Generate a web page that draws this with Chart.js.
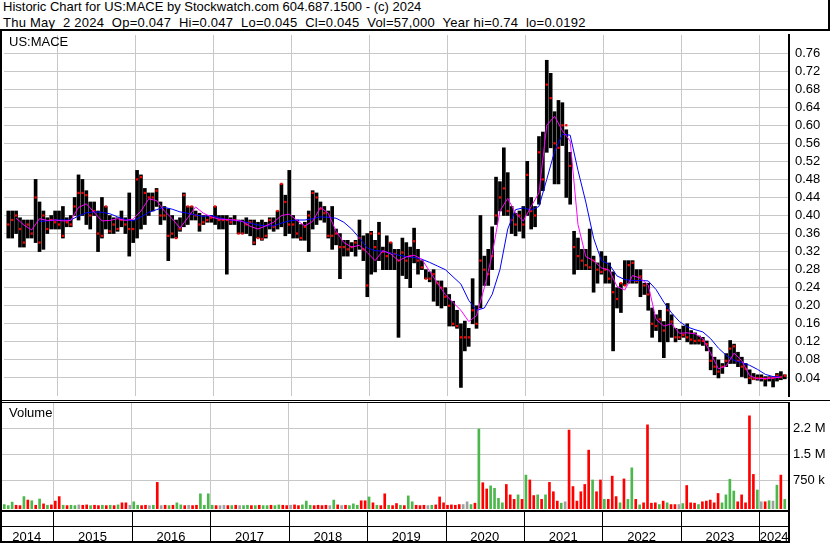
<!DOCTYPE html>
<html>
<head>
<meta charset="utf-8">
<title>Historic Chart for US:MACE</title>
<script src="https://cdn.jsdelivr.net/npm/chart.js@4.4.1/dist/chart.umd.min.js"></script>
<style>
  html, body { margin: 0; padding: 0; background: #fff; }
  #wrap { position: relative; width: 830px; height: 543px; overflow: hidden;
          font-family: "Liberation Sans", Arial, sans-serif; font-size: 13px; color: #000; }
  #wrap canvas { position: absolute; left: 0; }
  #priceChart { top: 31px; }
  #volChart { top: 403px; }
  .txt { position: absolute; white-space: pre; line-height: 15px; }
  .rule { position: absolute; background: #000; }
</style>
</head>
<body>
<div id="wrap">
  <canvas id="priceChart" width="830" height="369"></canvas>
  <canvas id="volChart" width="830" height="140"></canvas>
  <div class="txt" style="left:3px; top:-1px">Historic Chart for US:MACE by Stockwatch.com 604.687.1500 - (c) 2024</div>
  <div class="txt" style="left:3px; top:15px; letter-spacing:0.24px">Thu May  2 2024  Op=0.047  Hi=0.047  Lo=0.045  Cl=0.045  Vol=57,000  Year hi=0.74  lo=0.0192</div>
  <div class="rule" style="left:0; top:29px; width:830px; height:2px"></div>
  <div class="rule" style="left:828px; top:0; width:2px; height:31px"></div>
  <div class="rule" style="left:0; top:31px; width:2px; height:512px"></div>
  <div class="rule" style="left:0; top:400px; width:830px; height:1px"></div>
  <div class="rule" style="left:0; top:402px; width:790px; height:1px"></div>
  <div class="txt" style="left:9px; top:34px">US:MACE</div>
  <div class="txt" style="left:9px; top:405px">Volume</div>
</div>
<script>
// one bar every 0.05 year, first one in May 2014, last one early May 2024
const firstBar = 2014.375;
const barStep = 0.05;

const high = [
  0.41, 0.41, 0.41, 0.395, 0.39, 0.39, 0.39, 0.48, 0.43, 0.41, 0.395, 0.40, 0.41,
  0.41, 0.42, 0.395, 0.40, 0.44, 0.49, 0.48, 0.455, 0.43, 0.43, 0.41, 0.44, 0.42, 0.40, 0.395, 0.395, 0.41, 0.395, 0.45, 0.39,
  0.50, 0.49, 0.46, 0.45, 0.45, 0.46, 0.43, 0.42, 0.415, 0.40, 0.39, 0.395, 0.45, 0.42, 0.42, 0.41, 0.405, 0.40, 0.40, 0.40,
  0.42, 0.40, 0.40, 0.40, 0.395, 0.40, 0.39, 0.39, 0.395, 0.39, 0.39, 0.385, 0.39, 0.385, 0.395, 0.395, 0.41, 0.47, 0.445, 0.50,
  0.40, 0.39, 0.38, 0.385, 0.41, 0.455, 0.45, 0.43, 0.42, 0.41, 0.42, 0.37, 0.36, 0.345, 0.345, 0.34, 0.345, 0.39, 0.355, 0.36,
  0.365, 0.345, 0.385, 0.33, 0.355, 0.34, 0.325, 0.325, 0.35, 0.34, 0.33, 0.372, 0.325, 0.30, 0.28, 0.275, 0.28, 0.255, 0.255, 0.24,
  0.225, 0.21, 0.19, 0.16, 0.166, 0.15, 0.26, 0.20, 0.40, 0.31, 0.325, 0.375, 0.485, 0.475, 0.55, 0.495, 0.42, 0.405, 0.41, 0.42,
  0.52, 0.44, 0.42, 0.575, 0.585, 0.744, 0.715, 0.63, 0.655, 0.65, 0.59, 0.54, 0.365, 0.35, 0.325, 0.325, 0.37, 0.31, 0.295, 0.32,
  0.31, 0.295, 0.275, 0.24, 0.25, 0.30, 0.30, 0.30, 0.28, 0.28, 0.25, 0.25, 0.195, 0.18, 0.19, 0.165, 0.205, 0.18, 0.15, 0.148,
  0.155, 0.16, 0.145, 0.14, 0.133, 0.13, 0.122, 0.108, 0.086, 0.08, 0.072, 0.094, 0.123, 0.115, 0.097, 0.086, 0.072, 0.058, 0.05, 0.047,
  0.047, 0.043, 0.043, 0.043, 0.05, 0.054, 0.047
];
const low = [
  0.35, 0.35, 0.36, 0.33, 0.33, 0.35, 0.35, 0.34, 0.32, 0.325, 0.36, 0.37, 0.37,
  0.37, 0.35, 0.375, 0.375, 0.40, 0.39, 0.40, 0.38, 0.37, 0.40, 0.32, 0.35, 0.37, 0.36, 0.36, 0.365, 0.375, 0.36, 0.31, 0.34,
  0.35, 0.37, 0.38, 0.40, 0.41, 0.42, 0.38, 0.39, 0.30, 0.35, 0.35, 0.365, 0.375, 0.38, 0.39, 0.39, 0.365, 0.38, 0.385, 0.385,
  0.38, 0.37, 0.37, 0.27, 0.38, 0.38, 0.36, 0.36, 0.36, 0.355, 0.335, 0.35, 0.345, 0.35, 0.37, 0.365, 0.37, 0.375, 0.355, 0.36,
  0.35, 0.35, 0.345, 0.345, 0.32, 0.37, 0.38, 0.39, 0.385, 0.35, 0.325, 0.335, 0.26, 0.31, 0.31, 0.32, 0.31, 0.325, 0.30, 0.22,
  0.27, 0.275, 0.30, 0.28, 0.28, 0.28, 0.28, 0.13, 0.267, 0.26, 0.24, 0.295, 0.27, 0.28, 0.26, 0.253, 0.21, 0.20, 0.195, 0.20,
  0.155, 0.155, 0.15, 0.019, 0.10, 0.11, 0.16, 0.15, 0.195, 0.245, 0.245, 0.28, 0.38, 0.41, 0.40, 0.40, 0.36, 0.355, 0.365, 0.35,
  0.40, 0.37, 0.375, 0.425, 0.455, 0.54, 0.55, 0.47, 0.47, 0.555, 0.44, 0.425, 0.27, 0.28, 0.28, 0.28, 0.28, 0.23, 0.25, 0.27,
  0.25, 0.25, 0.10, 0.195, 0.185, 0.245, 0.25, 0.25, 0.25, 0.22, 0.225, 0.19, 0.13, 0.145, 0.12, 0.085, 0.12, 0.13, 0.12, 0.125,
  0.13, 0.12, 0.115, 0.115, 0.115, 0.112, 0.10, 0.058, 0.047, 0.04, 0.05, 0.065, 0.072, 0.072, 0.065, 0.043, 0.04, 0.027, 0.036, 0.035,
  0.033, 0.022, 0.033, 0.02, 0.033, 0.036, 0.038
];
const close = [
  0.38, 0.39, 0.40, 0.37, 0.34, 0.38, 0.36, 0.44, 0.34, 0.40, 0.37, 0.39, 0.385,
  0.38, 0.355, 0.385, 0.38, 0.42, 0.45, 0.45, 0.445, 0.40, 0.41, 0.36, 0.355, 0.42, 0.365, 0.38, 0.37, 0.39, 0.38, 0.37, 0.37,
  0.48, 0.485, 0.45, 0.44, 0.44, 0.455, 0.40, 0.40, 0.355, 0.36, 0.35, 0.37, 0.445, 0.42, 0.42, 0.40, 0.38, 0.385, 0.39, 0.395,
  0.42, 0.39, 0.39, 0.39, 0.385, 0.39, 0.36, 0.36, 0.38, 0.385, 0.34, 0.35, 0.348, 0.355, 0.39, 0.375, 0.41, 0.47, 0.43, 0.38,
  0.38, 0.36, 0.35, 0.375, 0.40, 0.45, 0.44, 0.415, 0.405, 0.355, 0.355, 0.36, 0.33, 0.33, 0.325, 0.33, 0.34, 0.35, 0.325, 0.245,
  0.36, 0.33, 0.36, 0.32, 0.31, 0.34, 0.315, 0.30, 0.318, 0.30, 0.31, 0.343, 0.30, 0.285, 0.26, 0.26, 0.27, 0.25, 0.24, 0.22,
  0.20, 0.16, 0.155, 0.13, 0.13, 0.13, 0.19, 0.16, 0.30, 0.28, 0.27, 0.31, 0.40, 0.44, 0.46, 0.41, 0.39, 0.38, 0.40, 0.38,
  0.49, 0.41, 0.40, 0.54, 0.48, 0.69, 0.66, 0.56, 0.55, 0.60, 0.60, 0.51, 0.33, 0.31, 0.30, 0.29, 0.285, 0.30, 0.28, 0.275,
  0.28, 0.26, 0.23, 0.215, 0.25, 0.245, 0.29, 0.295, 0.255, 0.265, 0.245, 0.225, 0.16, 0.155, 0.17, 0.145, 0.19, 0.165, 0.13, 0.13,
  0.135, 0.13, 0.125, 0.122, 0.123, 0.122, 0.115, 0.078, 0.065, 0.054, 0.065, 0.078, 0.105, 0.11, 0.078, 0.065, 0.06, 0.04, 0.038, 0.04,
  0.04, 0.038, 0.04, 0.04, 0.045, 0.042, 0.045
];
// volume in millions of shares
const volume = [
  0.05, 0.02, 0.12, 0.03, 0.02, 0.28, 0.18, 0.16, 0.03, 0.21, 0.07, 0.03, 0.04,
  0.15, 0.28, 0.03, 0.02, 0.03, 0.02, 0.04, 0.03, 0.04, 0.02, 0.03, 0.02, 0.03, 0.02, 0.03, 0.02, 0.04, 0.10, 0.10, 0.03,
  0.13, 0.03, 0.02, 0.03, 0.02, 0.03, 0.69, 0.02, 0.03, 0.02, 0.03, 0.10, 0.04, 0.02, 0.03, 0.02, 0.03, 0.36, 0.03, 0.36,
  0.03, 0.02, 0.02, 0.03, 0.02, 0.02, 0.03, 0.02, 0.02, 0.03, 0.02, 0.02, 0.03, 0.02, 0.02, 0.03, 0.02, 0.04, 0.03, 0.02,
  0.03, 0.04, 0.02, 0.04, 0.15, 0.03, 0.02, 0.03, 0.02, 0.03, 0.02, 0.18, 0.04, 0.02, 0.03, 0.02, 0.07, 0.03, 0.16, 0.16,
  0.27, 0.10, 0.03, 0.02, 0.36, 0.03, 0.02, 0.08, 0.03, 0.02, 0.30, 0.13, 0.03, 0.02, 0.03, 0.02, 0.03, 0.04, 0.27, 0.10,
  0.03, 0.04, 0.03, 0.05, 0.05, 0.13, 0.05, 0.09, 2.23, 0.68, 0.50, 0.59, 0.52, 0.23, 0.10, 0.63, 0.33, 0.20, 0.33, 0.20,
  0.90, 0.76, 0.31, 0.33, 0.20, 0.33, 0.69, 0.42, 0.15, 0.09, 0.13, 2.20, 0.57, 0.15, 0.42, 0.63, 1.62, 0.76, 0.42, 0.76,
  0.20, 0.20, 0.87, 0.28, 0.10, 0.79, 0.20, 1.11, 0.20, 0.04, 0.10, 2.35, 0.09, 0.10, 0.05, 0.15, 0.10, 0.05, 0.05, 0.05,
  0.08, 0.60, 0.10, 0.09, 0.05, 0.13, 0.15, 0.18, 0.10, 0.37, 0.10, 0.33, 0.78, 0.44, 0.13, 0.33, 0.10, 2.61, 0.92, 0.47,
  0.13, 0.13, 0.16, 0.15, 0.61, 0.90, 0.20
];
// moving averages, read every second bar
const maShort = [
  null, 0.394, 0.379, 0.368, 0.393, 0.389, 0.39, 0.388, 0.389, 0.418,
  0.426, 0.407, 0.388, 0.389, 0.393, 0.389, 0.392, 0.41, 0.437, 0.433,
  0.41, 0.393, 0.372, 0.395, 0.419, 0.405, 0.397, 0.392, 0.391, 0.39,
  0.387, 0.376, 0.37, 0.377, 0.385, 0.40, 0.403, 0.389, 0.377, 0.387,
  0.418, 0.405, 0.365, 0.34, 0.33, 0.334, 0.318, 0.30, 0.322, 0.315,
  0.30, 0.308, 0.312, 0.303, 0.276, 0.25, 0.225, 0.207, 0.19, 0.165,
  0.178, 0.24, 0.313, 0.41, 0.438, 0.405, 0.388, 0.42, 0.45, 0.60,
  0.62, 0.588, 0.565, 0.38, 0.309, 0.30, 0.284, 0.279, 0.243, 0.235,
  0.267, 0.261, 0.246, 0.17, 0.155, 0.16, 0.139, 0.14, 0.138, 0.127,
  0.095, 0.06, 0.067, 0.095, 0.078, 0.045, 0.038, 0.039, 0.04, 0.042
];
const maLong = [
  null, null, null, null, 0.387, 0.388, 0.39, 0.39, 0.39, 0.399,
  0.406, 0.408, 0.407, 0.404, 0.397, 0.391, 0.388, 0.397, 0.407, 0.413,
  0.418, 0.414, 0.408, 0.405, 0.401, 0.398, 0.40, 0.395, 0.391, 0.389,
  0.387, 0.383, 0.379, 0.377, 0.377, 0.383, 0.388, 0.39, 0.39, 0.393,
  0.397, 0.396, 0.394, 0.385, 0.37, 0.35, 0.328, 0.322, 0.321, 0.317,
  0.312, 0.309, 0.307, 0.303, 0.296, 0.288, 0.28, 0.264, 0.248, 0.212,
  0.19, 0.195, 0.225, 0.28, 0.37, 0.413, 0.417, 0.412, 0.42, 0.48,
  0.542, 0.58, 0.578, 0.50, 0.43, 0.35, 0.30, 0.292, 0.266, 0.258,
  0.256, 0.256, 0.255, 0.236, 0.208, 0.184, 0.165, 0.153, 0.147, 0.142,
  0.127, 0.106, 0.09, 0.079, 0.074, 0.068, 0.059, 0.048, 0.043, 0.042
];

const yearTicks = [2015, 2016, 2017, 2018, 2019, 2020, 2021, 2022, 2023, 2024];
const yearLabels = ['2014', '2015', '2016', '2017', '2018', '2019', '2020', '2021', '2022', '2023', '2024'];
const priceTicks = [0.04, 0.08, 0.12, 0.16, 0.20, 0.24, 0.28, 0.32, 0.36, 0.40,
                    0.44, 0.48, 0.52, 0.56, 0.60, 0.64, 0.68, 0.72, 0.76];
const priceLabels = priceTicks.map(v => v.toFixed(2));
const volTicks = [0.75, 1.5, 2.25];
const volLabels = ['750 k', '1.5 M', '2.2 M'];

const xMin = 2014.32, xMax = 2024.379;
const gridColor = '#c8c8c8';
const upColor = '#4cb84c', downColor = '#ff0000', flatColor = '#a0a0a0';

function pickTickFont() {
  const c = document.createElement('canvas').getContext('2d');
  c.font = '15px "Liberation Sans Narrow", serif';
  const a = c.measureText('0123456789').width;
  c.font = '15px serif';
  const b = c.measureText('0123456789').width;
  if (Math.abs(a - b) > 0.5) return {family: '"Liberation Sans Narrow"', size: 15};
  return {family: '"Liberation Sans", Arial, sans-serif', size: 13};
}
const tickFont = pickTickFont();

const barTime = i => firstBar + i * barStep;
const everyOther = arr => arr.map((v, k) => ({x: barTime(2 * k), y: v})).filter(p => p.y !== null);

function xScale() {
  return {
    type: 'linear', min: xMin, max: xMax, offset: false,
    grid: {color: gridColor, drawTicks: false, offset: false},
    border: {display: false},
    ticks: {display: false},
    afterBuildTicks: s => { s.ticks = yearTicks.map(v => ({value: v})); },
    afterFit: s => { s.height = 0; }
  };
}

const common = {
  responsive: false,
  animation: false,
  devicePixelRatio: 1,
  events: [],
  plugins: {legend: {display: false}, tooltip: {enabled: false}}
};

new Chart(document.getElementById('priceChart'), {
  type: 'bar',
  data: {
    datasets: [
      {
        type: 'line', data: everyOther(maShort), borderColor: '#ff00ff', borderWidth: 1,
        pointRadius: 0, tension: 0, order: 1
      },
      {
        type: 'line', data: everyOther(maLong), borderColor: '#0000ff', borderWidth: 1,
        pointRadius: 0, tension: 0, order: 2
      },
      {
        type: 'line', data: close.map((c, i) => ({x: barTime(i), y: c})), showLine: false,
        pointStyle: 'rect', pointRadius: 1.6, pointBorderWidth: 0,
        pointBackgroundColor: '#ff0000', pointBorderColor: '#ff0000', order: 3
      },
      {
        type: 'bar', data: high.map((h, i) => ({x: barTime(i), y: [low[i], h]})),
        backgroundColor: '#000', barThickness: 3, order: 4
      }
    ]
  },
  options: Object.assign({}, common, {
    layout: {padding: 0},
    scales: {
      x: xScale(),
      y: {
        type: 'linear', position: 'right', min: 0, max: 0.8,
        grid: {color: gridColor, drawTicks: false},
        border: {color: '#000', width: 2},
        ticks: {color: '#000', font: tickFont, padding: 6, callback: (v, i) => priceLabels[i]},
        afterBuildTicks: s => { s.ticks = priceTicks.map(v => ({value: v})); },
        afterFit: s => { s.width = 41; s.paddingTop = 0; s.paddingBottom = 0; }
      }
    }
  })
});

// year strip under the volume panel
const yearStrip = {
  id: 'yearStrip',
  afterDraw(chart) {
    const {ctx, chartArea} = chart;
    const xs = chart.scales.x;
    const top = chartArea.bottom;
    const right = chartArea.right;
    ctx.save();
    ctx.fillStyle = '#000';
    ctx.fillRect(0, top + 1, right, 2);
    ctx.fillRect(0, top + 17, right, 1);
    ctx.fillRect(0, top + 32, right + 1, 2);
    ctx.fillRect(right - 1, top, 2, 34);
    yearTicks.forEach(v => {
      ctx.fillRect(Math.round(xs.getPixelForValue(v)), top + 1, 1, 33);
    });
    ctx.font = tickFont.size + 'px ' + tickFont.family;
    ctx.textAlign = 'center';
    ctx.textBaseline = 'alphabetic';
    yearLabels.forEach((lab, k) => {
      const a = k === 0 ? xs.min : yearTicks[k - 1];
      const b = k < yearTicks.length ? yearTicks[k] : xs.max;
      const cx = (xs.getPixelForValue(a) + xs.getPixelForValue(b)) / 2;
      ctx.fillText(lab, cx, top + 31.5);
    });
    ctx.restore();
  }
};

new Chart(document.getElementById('volChart'), {
  type: 'bar',
  data: {
    datasets: [{
      data: volume.map((v, i) => ({x: barTime(i), y: v})),
      backgroundColor: close.map((c, i) => i === 0 || c > close[i - 1] ? upColor : (c < close[i - 1] ? downColor : flatColor)),
      barThickness: 2,
      base: -0.078
    }]
  },
  options: Object.assign({}, common, {
    layout: {padding: {bottom: 34}},
    scales: {
      x: xScale(),
      y: {
        type: 'linear', position: 'right', min: -0.078, max: 2.98,
        grid: {color: gridColor, drawTicks: false},
        border: {color: '#000', width: 2},
        ticks: {color: '#000', font: tickFont, padding: 4, callback: (v, i) => volLabels[i]},
        afterBuildTicks: s => { s.ticks = volTicks.map(v => ({value: v})); },
        afterFit: s => { s.width = 41; s.paddingTop = 0; s.paddingBottom = 0; }
      }
    }
  }),
  plugins: [yearStrip]
});
</script>
</body>
</html>
